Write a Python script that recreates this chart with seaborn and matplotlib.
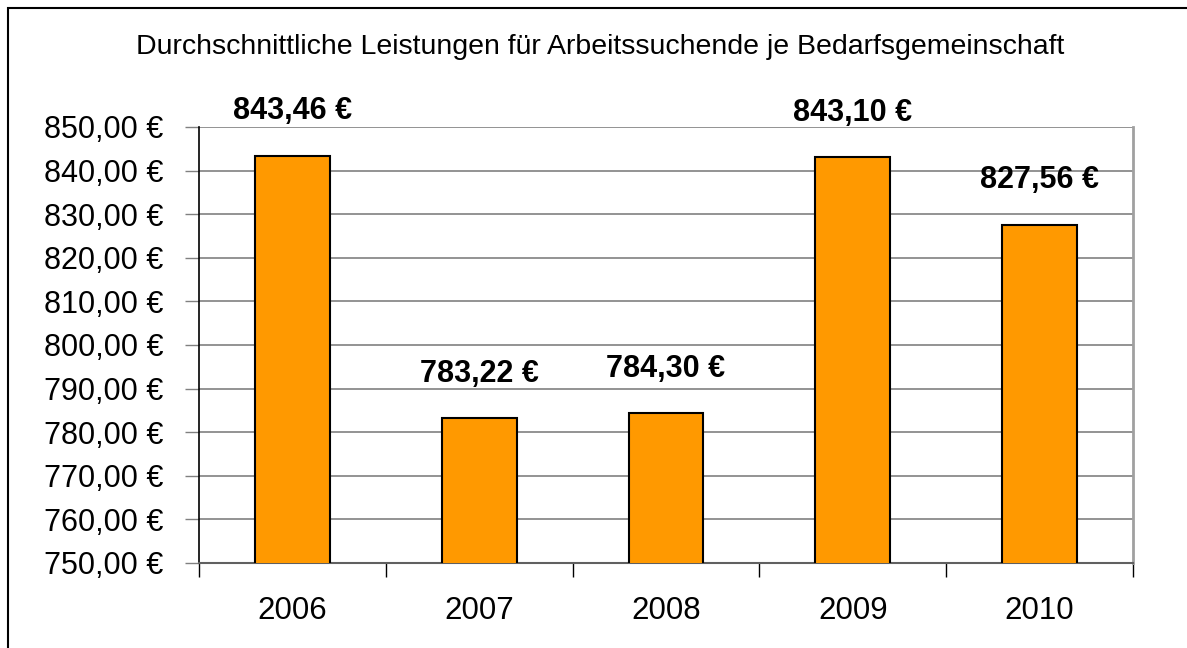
import numpy as np
import pandas as pd
import seaborn as sns
import matplotlib.pyplot as plt
from matplotlib.patches import Rectangle
from matplotlib.ticker import FixedLocator

years = ['2006', '2007', '2008', '2009', '2010']
values = [843.46, 783.22, 784.30, 843.10, 827.56]
title = 'Durchschnittliche Leistungen für Arbeitssuchende je Bedarfsgemeinschaft'

df = pd.DataFrame({'Jahr': years, 'Leistung': values})

def euro(v):
    return f'{v:,.2f} €'.replace(',', 'X').replace('.', ',').replace('X', '.')

sns.set_style('white')
plt.rcParams['font.family'] = ['Liberation Sans', 'DejaVu Sans']
plt.rcParams['text.color'] = 'black'
plt.rcParams['xtick.labelcolor'] = 'black'
plt.rcParams['ytick.labelcolor'] = 'black'

fig = plt.figure(figsize=(11.87, 6.48), dpi=100)
ax = fig.add_axes([199 / 1187, 1 - 563 / 648, (1133 - 199) / 1187, (563 - 127) / 648])

sns.barplot(data=df, x='Jahr', y='Leistung', color='#FF9900', saturation=1,
            width=0.4, edgecolor='black', linewidth=1.5, ax=ax, zorder=3)

ax.set_ylim(750, 850)
ax.set_xlim(-0.5, len(years) - 0.5)
ax.set_yticks(np.arange(750, 851, 10))
ax.set_yticklabels([euro(v) for v in np.arange(750, 851, 10)], fontsize=22)
ax.yaxis.grid(True, color='#808080', linewidth=1.2, zorder=0)
ax.set_xlabel('')
ax.set_ylabel('')

# x ticks between categories, labels centred
ax.xaxis.set_minor_locator(FixedLocator(np.arange(-0.5, len(years), 1)))
ax.tick_params(axis='x', which='minor', length=10, width=1, color='black', bottom=True)
ax.tick_params(axis='x', which='major', length=0, pad=24, labelsize=22.5, bottom=True)
ax.tick_params(axis='y', length=10, width=1, color='#808080', pad=15.5, left=True)

ax.spines['left'].set_color('black')
ax.spines['left'].set_linewidth(1.2)
ax.spines['bottom'].set_color('#606060')
ax.spines['bottom'].set_linewidth(1.5)
ax.spines['right'].set_color('#a0a0a0')
ax.spines['right'].set_linewidth(2)
ax.spines['top'].set_visible(False)

for i, v in enumerate(values):
    ax.annotate(euro(v), (i, v), xytext=(0, 32), textcoords='offset points',
                ha='center', va='center', fontsize=22, fontweight='bold',
                annotation_clip=False)

fig.text(600 / 1187, 1 - 47 / 648, title, ha='center', va='center', fontsize=20.5)

fig.add_artist(Rectangle((8 / 1187, -0.1), 1.2, 1.1 - 8 / 648, transform=fig.transFigure,
                         fill=False, edgecolor='black', linewidth=1.5))

plt.savefig('out.png', dpi=100)
